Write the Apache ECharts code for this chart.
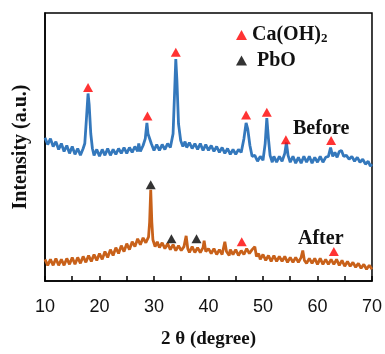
<!DOCTYPE html>
<html>
<head>
<meta charset="utf-8">
<script src="https://cdn.jsdelivr.net/npm/echarts@6/dist/echarts.min.js"></script>
<style>html,body{margin:0;padding:0;background:#fff}#c{width:385px;height:354px}</style>
</head>
<body>
<div id="c"></div>
<script>
// Before (blue) pattern: [2θ, intensity]
var beforeData = [
[10,146],[10.5,139],[11,145],[11.5,137],[12,142],[12.5,134],[13,140],[13.5,132],[14,138],[14.5,130],
[15,137],[15.5,129],[16,135],[16.5,128],[17,135],[17.3,140],[17.6,165],[17.9,191],[18.1,180],[18.4,150],
[18.7,135],[19,128],[19.5,134],[20,127],[20.5,134],[21,128],[21.5,135],[22,128],[22.5,134],[23,129],
[23.5,135],[24,130],[24.5,136],[25,130],[25.5,136],[26,131],[26.5,137],[27,132],[27.2,140],[27.5,132],
[28,138],[28.4,145],[28.7,161],[28.9,150],[29.2,149],[29.5,140],[30,133],[30.5,139],[31,133],[31.5,139],
[32,134],[32.5,140],[33,136],[33.5,150],[33.8,195],[34.0,226],[34.2,205],[34.5,160],[34.9,143],[35.3,137],
[35.7,142],[36,136],[36.5,141],[37,135],[37.5,140],[38,134],[38.5,140],[39,133],[39.5,139],[40,133],
[40.5,138],[41,132],[41.5,137],[42,131],[42.5,136],[43,130],[43.5,135],[44,129],[44.5,134],[45,129],
[45.5,134],[46,131],[46.5,145],[46.9,161],[47.2,155],[47.6,138],[48,127],[48.5,128],[49,122],[49.5,127],
[50,123],[50.4,140],[50.7,166],[51,145],[51.3,128],[51.7,121],[52,127],[52.5,121],[53,127],[53.5,122],
[54,130],[54.3,141],[54.6,128],[55,121],[55.5,127],[56,120],[56.5,126],[57,120],[57.5,127],[58,121],
[58.5,127],[59,120],[59.5,126],[60,121],[60.5,127],[61,121],[61.5,126],[62,127],[62.4,136],[62.8,127],
[63.2,131],[63.6,126],[64,132],[64.4,133],[64.8,127],[65.3,128],[65.8,124],[66.3,127],[66.8,122],[67.3,126],
[67.8,121],[68.3,124],[68.8,119],[69.3,122],[69.7,117],[70,119]
];
// After (orange) pattern
var afterData = [
[10,22],[10.5,16],[11,22],[11.5,16],[12,23],[12.5,16],[13,22],[13.5,16],[14,23],[14.5,17],
[15,24],[15.5,17],[16,24],[16.5,18],[17,25],[17.5,19],[18,26],[18.5,20],[19,27],[19.5,21],
[20,28],[20.5,22],[21,30],[21.5,24],[22,32],[22.5,26],[23,34],[23.5,28],[24,36],[24.5,30],
[25,38],[25.5,32],[26,40],[26.5,35],[27,43],[27.5,37],[28,44],[28.5,39],[29,45],[29.2,60],
[29.4,93],[29.6,60],[29.8,42],[30.2,35],[30.6,40],[31,34],[31.5,39],[32,33],[32.5,38],[33,32],
[33.5,37],[34,31],[34.5,36],[35,31],[35.5,35],[35.9,46],[36.2,33],[36.5,29],[37,35],[37.5,29],
[38,34],[38.5,29],[39,34],[39.2,41],[39.5,30],[40,33],[40.5,28],[41,33],[41.5,27],[42,32],
[42.5,27],[43,40],[43.3,30],[43.8,26],[44,32],[44.5,27],[45,32],[45.5,26],[46,31],[46.5,27],
[47,33],[47.5,28],[48,32],[48.5,35],[48.8,25],[49.2,28],[49.5,22],[50,27],[50.5,21],[51,26],
[51.5,20],[52,26],[52.5,20],[53,25],[53.5,20],[54,25],[54.5,19],[55,24],[55.5,19],[56,24],
[56.5,19],[57,24],[57.3,31],[57.6,21],[58,18],[58.5,23],[59,18],[59.5,23],[60,17],[60.5,23],
[61,17],[61.5,22],[62,17],[62.5,22],[63,17],[63.5,22],[64,16],[64.5,21],[65,15],[65.5,20],
[66,15],[66.5,19],[67,14],[67.5,18],[68,13],[68.5,17],[69,12],[69.5,16],[70,12]
];
// Phase markers
var caohMarks = [[17.9,197],[28.8,168],[34.0,233],[46.9,169],[50.7,172],[54.2,144],[62.5,143],[46.1,40],[63.0,30]];
var pboMarks = [[29.4,98],[33.2,43],[37.8,43]];
var xTicks = [10,20,30,40,50,60,70];

var chart = echarts.init(document.getElementById('c'));
var serif = 'Liberation Serif, Times New Roman, serif';
chart.setOption({
  animation: false,
  backgroundColor: '#fff',
  grid: {left: 45, right: 13, top: 13, bottom: 68, show: true, borderColor: '#000', borderWidth: 1.5},
  xAxis: {
    type: 'value', min: 10, max: 70, interval: 5,
    axisLine: {lineStyle: {color: '#000', width: 1.5}},
    axisTick: {inside: true, length: 5, lineStyle: {color: '#000', width: 1.5}},
    splitLine: {show: false},
    axisLabel: {
      margin: 17, color: '#111', fontSize: 18, fontFamily: 'Liberation Sans, Arial, sans-serif',
      formatter: function (v) { return xTicks.indexOf(v) >= 0 ? String(v) : ''; }
    },
    name: '2 θ (degree)', nameLocation: 'middle', nameGap: 49,
    nameTextStyle: {fontFamily: serif, fontWeight: 'bold', fontSize: 19, color: '#111'}
  },
  yAxis: {
    type: 'value', min: 0, max: 273,
    axisLine: {show: true, lineStyle: {color: '#000', width: 1.5}},
    axisTick: {show: false}, axisLabel: {show: false}, splitLine: {show: false},
    name: 'Intensity (a.u.)', nameLocation: 'middle', nameGap: 14,
    nameTextStyle: {fontFamily: serif, fontWeight: 'bold', fontSize: 20, color: '#111'}
  },
  legend: {
    orient: 'vertical', left: 231, top: 20, itemWidth: 11, itemHeight: 10, itemGap: 5,
    data: [{name: 'Ca(OH)2', icon: 'triangle'}, {name: 'PbO', icon: 'triangle'}],
    formatter: function (n) { return n === 'Ca(OH)2' ? '{t|Ca(OH)}{s|2}' : '{t| PbO}'; },
    textStyle: {
      rich: {
        t: {fontFamily: serif, fontWeight: 'bold', fontSize: 20, color: '#111', lineHeight: 21},
        s: {fontFamily: serif, fontWeight: 'bold', fontSize: 13, color: '#111', lineHeight: 21, verticalAlign: 'bottom'}
      }
    }
  },
  series: [
    {type: 'line', name: 'Before', data: beforeData, showSymbol: false, symbol: 'none',
     lineStyle: {color: '#3478BC', width: 2.8}, itemStyle: {color: '#3478BC'}, z: 2},
    {type: 'line', name: 'After', data: afterData, showSymbol: false, symbol: 'none',
     lineStyle: {color: '#C8611A', width: 2.8}, itemStyle: {color: '#C8611A'}, z: 2},
    {type: 'scatter', name: 'Ca(OH)2', data: caohMarks, symbol: 'triangle', symbolSize: [10, 9],
     itemStyle: {color: '#FF0000'}, z: 3},
    {type: 'scatter', name: 'PbO', data: pboMarks, symbol: 'triangle', symbolSize: [10, 9],
     itemStyle: {color: '#000'}, z: 3}
  ],
  graphic: [
    {type: 'text', left: 293, top: 119, style: {text: 'Before', font: 'bold 20px ' + serif, fill: '#111'}},
    {type: 'text', left: 298, top: 229, style: {text: 'After', font: 'bold 20px ' + serif, fill: '#111'}}
  ]
});
</script>
</body>
</html>
